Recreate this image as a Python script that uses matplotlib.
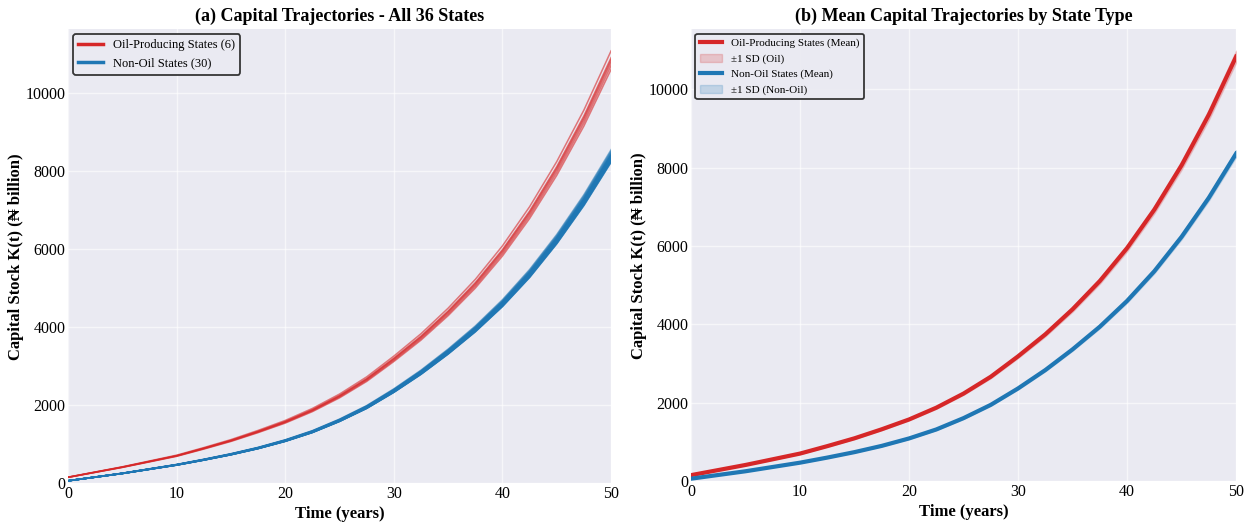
import numpy as np
import matplotlib
matplotlib.use('Agg')
import matplotlib.pyplot as plt

years = [0, 2.5, 5, 7.5, 10, 12.5, 15, 17.5, 20, 22.5, 25,
         27.5, 30, 32.5, 35, 37.5, 40, 42.5, 45, 47.5, 50]

# Oil-producing states (6), K(t) in N billion
oil_states = [
    [154, 287, 420, 569, 718, 912, 1117, 1353, 1609, 1917, 2286, 2727, 3260, 3834, 4490, 5228, 6089, 7093, 8251, 9574, 11091],
    [151, 283, 414, 560, 706, 898, 1100, 1332, 1584, 1887, 2250, 2684, 3209, 3774, 4419, 5146, 5993, 6982, 8122, 9424, 10917],
    [151, 281, 412, 557, 703, 894, 1094, 1325, 1576, 1877, 2239, 2671, 3193, 3755, 4398, 5120, 5964, 6948, 8082, 9377, 10863],
    [150, 279, 409, 554, 699, 888, 1088, 1317, 1567, 1866, 2226, 2655, 3174, 3733, 4371, 5090, 5928, 6906, 8034, 9321, 10798],
    [149, 277, 406, 549, 693, 881, 1079, 1307, 1554, 1851, 2208, 2633, 3148, 3703, 4336, 5049, 5881, 6851, 7970, 9247, 10712],
    [147, 275, 402, 544, 687, 873, 1069, 1295, 1540, 1834, 2188, 2609, 3120, 3669, 4297, 5003, 5827, 6789, 7897, 9163, 10614],
]

# Non-oil states (30)
non_oil_states = [
    [61, 158, 255, 368, 480, 613, 756, 919, 1113, 1348, 1644, 1991, 2420, 2900, 3441, 4033, 4707, 5483, 6381, 7402, 8556],
    [61, 158, 254, 366, 478, 610, 753, 915, 1109, 1342, 1637, 1983, 2410, 2888, 3427, 4017, 4688, 5461, 6356, 7373, 8523],
    [61, 157, 254, 365, 477, 608, 750, 913, 1105, 1339, 1633, 1977, 2403, 2880, 3417, 4005, 4675, 5445, 6338, 7352, 8497],
    [61, 157, 253, 364, 475, 607, 748, 910, 1102, 1335, 1628, 1972, 2396, 2871, 3407, 3994, 4661, 5429, 6319, 7330, 8472],
    [61, 156, 252, 363, 474, 605, 747, 908, 1100, 1332, 1625, 1968, 2391, 2866, 3400, 3986, 4652, 5418, 6306, 7315, 8455],
    [60, 156, 252, 363, 473, 604, 745, 906, 1098, 1329, 1621, 1964, 2387, 2860, 3394, 3978, 4642, 5408, 6294, 7301, 8439],
    [60, 156, 251, 362, 472, 603, 744, 905, 1096, 1327, 1618, 1960, 2382, 2854, 3387, 3970, 4633, 5397, 6281, 7286, 8422],
    [60, 156, 251, 361, 472, 602, 743, 904, 1094, 1325, 1616, 1958, 2379, 2851, 3383, 3966, 4628, 5391, 6275, 7279, 8414],
    [60, 155, 251, 361, 471, 602, 742, 903, 1093, 1324, 1615, 1956, 2377, 2849, 3380, 3962, 4624, 5386, 6269, 7272, 8405],
    [60, 155, 251, 361, 471, 601, 741, 902, 1092, 1323, 1613, 1954, 2375, 2846, 3377, 3958, 4619, 5381, 6263, 7265, 8397],
    [60, 155, 250, 360, 470, 601, 741, 901, 1091, 1321, 1612, 1952, 2372, 2843, 3373, 3954, 4615, 5375, 6256, 7257, 8388],
    [60, 155, 250, 360, 470, 600, 740, 900, 1090, 1320, 1610, 1950, 2370, 2840, 3370, 3950, 4610, 5370, 6250, 7250, 8380],
    [60, 155, 250, 360, 470, 599, 739, 899, 1089, 1319, 1608, 1948, 2368, 2837, 3367, 3946, 4605, 5365, 6244, 7243, 8372],
    [60, 155, 250, 359, 469, 599, 739, 898, 1088, 1317, 1607, 1946, 2365, 2834, 3363, 3942, 4601, 5359, 6238, 7236, 8363],
    [60, 155, 249, 359, 469, 598, 738, 897, 1087, 1316, 1605, 1944, 2363, 2831, 3360, 3938, 4596, 5354, 6231, 7228, 8355],
    [60, 154, 249, 359, 468, 598, 737, 896, 1086, 1315, 1604, 1942, 2361, 2829, 3357, 3934, 4592, 5349, 6225, 7221, 8346],
    [60, 154, 249, 358, 468, 597, 736, 896, 1085, 1313, 1602, 1940, 2358, 2826, 3353, 3930, 4587, 5343, 6219, 7214, 8338],
    [60, 154, 249, 358, 467, 596, 736, 895, 1083, 1312, 1600, 1938, 2356, 2823, 3350, 3926, 4582, 5338, 6213, 7207, 8330],
    [60, 154, 248, 357, 467, 596, 735, 894, 1082, 1311, 1599, 1936, 2353, 2820, 3346, 3922, 4578, 5332, 6206, 7199, 8321],
    [60, 154, 248, 357, 466, 595, 734, 893, 1081, 1309, 1597, 1934, 2351, 2817, 3343, 3918, 4573, 5327, 6200, 7192, 8313],
    [59, 154, 248, 357, 466, 595, 733, 892, 1080, 1308, 1596, 1932, 2349, 2814, 3340, 3914, 4569, 5322, 6194, 7185, 8305],
    [59, 153, 248, 356, 465, 594, 733, 891, 1079, 1307, 1594, 1931, 2346, 2812, 3336, 3911, 4564, 5316, 6188, 7178, 8296],
    [59, 153, 247, 356, 465, 593, 732, 890, 1078, 1305, 1592, 1929, 2344, 2809, 3333, 3907, 4559, 5311, 6181, 7170, 8288],
    [59, 153, 247, 356, 464, 593, 731, 889, 1077, 1304, 1591, 1927, 2342, 2806, 3330, 3903, 4555, 5306, 6175, 7163, 8279],
    [59, 153, 247, 355, 464, 592, 730, 888, 1076, 1303, 1589, 1925, 2339, 2803, 3326, 3899, 4550, 5300, 6169, 7156, 8271],
    [59, 153, 247, 355, 463, 592, 730, 887, 1075, 1302, 1587, 1923, 2337, 2800, 3323, 3895, 4545, 5295, 6163, 7149, 8263],
    [59, 153, 246, 355, 463, 591, 729, 887, 1074, 1300, 1586, 1921, 2334, 2797, 3319, 3891, 4541, 5289, 6156, 7141, 8254],
    [59, 153, 246, 354, 462, 590, 728, 886, 1073, 1299, 1584, 1919, 2332, 2795, 3316, 3887, 4536, 5284, 6150, 7134, 8246],
    [59, 152, 246, 354, 462, 590, 727, 885, 1071, 1298, 1583, 1917, 2330, 2792, 3313, 3883, 4532, 5279, 6144, 7127, 8238],
    [59, 152, 246, 354, 462, 589, 727, 884, 1070, 1296, 1581, 1915, 2327, 2789, 3309, 3879, 4527, 5273, 6138, 7120, 8229],
]

oil_color = '#d62728'
non_oil_color = '#1f77b4'

plt.rcParams['font.family'] = ['Liberation Serif', 'DejaVu Serif']
plt.rcParams['axes.facecolor'] = '#eaeaf2'
plt.rcParams['axes.edgecolor'] = 'white'

fig = plt.figure(figsize=(12.53, 5.24), dpi=100)
ax1 = fig.add_axes([0.0543, 0.078, 0.4334, 0.866])
ax2 = fig.add_axes([0.5515, 0.082, 0.4350, 0.862])

t = np.array(years)
oil = np.array(oil_states, dtype=float)
non_oil = np.array(non_oil_states, dtype=float)

# (a) every state
for i, row in enumerate(oil):
    ax1.plot(t, row, color=oil_color, lw=1.1, alpha=0.6,
             label='Oil-Producing States (%d)' % len(oil) if i == 0 else None)
for i, row in enumerate(non_oil):
    ax1.plot(t, row, color=non_oil_color, lw=1.1, alpha=0.5,
             label='Non-Oil States (%d)' % len(non_oil) if i == 0 else None)
ax1.set_title('(a) Capital Trajectories - All 36 States', fontsize=13, fontweight='bold')

# (b) means with +-1 SD
oil_mean, oil_sd = oil.mean(axis=0), oil.std(axis=0)
non_mean, non_sd = non_oil.mean(axis=0), non_oil.std(axis=0)
ax2.plot(t, oil_mean, color=oil_color, lw=3, label='Oil-Producing States (Mean)')
ax2.fill_between(t, oil_mean - oil_sd, oil_mean + oil_sd, color=oil_color, alpha=0.2,
                 label='±1 SD (Oil)')
ax2.plot(t, non_mean, color=non_oil_color, lw=3, label='Non-Oil States (Mean)')
ax2.fill_between(t, non_mean - non_sd, non_mean + non_sd, color=non_oil_color, alpha=0.2,
                 label='±1 SD (Non-Oil)')
ax2.set_title('(b) Mean Capital Trajectories by State Type', fontsize=13, fontweight='bold')

for ax in (ax1, ax2):
    ax.set_xlim(0, 50)
    ax.set_ylim(bottom=0)
    ax.set_xticks([0, 10, 20, 30, 40, 50])
    ax.set_yticks([0, 2000, 4000, 6000, 8000, 10000])
    ax.grid(True, color='white', lw=1, alpha=0.6)
    ax.set_axisbelow(True)
    ax.tick_params(length=0, labelsize=11.5, pad=2)
    for s in ax.spines.values():
        s.set_visible(False)
    ax.set_xlabel('Time (years)', fontsize=12, fontweight='bold', labelpad=3)
    ax.set_ylabel('Capital Stock K(t) (₦ billion)', fontsize=12, fontweight='bold', labelpad=1)
    leg = ax.legend(loc='upper left', fontsize=9 if ax is ax1 else 8, frameon=True,
                    fancybox=True, framealpha=0.9, borderaxespad=0.4)
    leg.get_frame().set_edgecolor('#222222')
    leg.get_frame().set_linewidth(1.3)
    leg.get_frame().set_facecolor('#eaeaf2')
    if ax is ax1:
        for h in leg.get_lines():
            h.set_linewidth(2.5)
            h.set_alpha(1)

fig.savefig('out.png', dpi=100)
